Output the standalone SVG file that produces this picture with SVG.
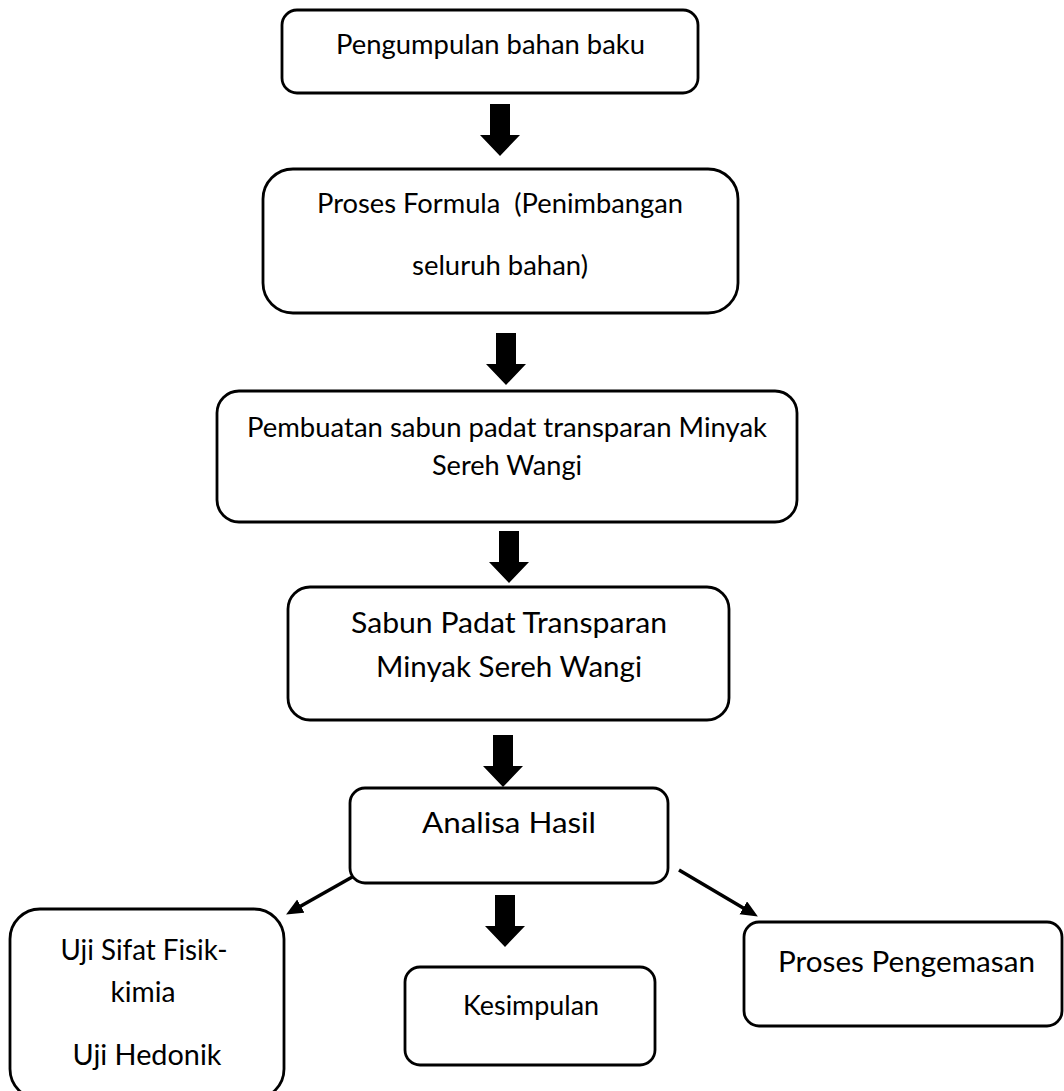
<svg xmlns="http://www.w3.org/2000/svg" width="1064" height="1091" viewBox="0 0 1064 1091">
<defs>
<style>
.box{fill:#fff;stroke:#000;stroke-width:2.8}
.t{font-family:Lato,"Liberation Sans",sans-serif;fill:#000;text-anchor:middle}
.s26{font-size:26px}
.s29{font-size:28.5px}
.blk{fill:#000}
.ln{stroke:#000;stroke-width:3.5;fill:none;marker-end:url(#ah)}
</style>
<marker id="ah" markerUnits="userSpaceOnUse" markerWidth="18" markerHeight="16" refX="4" refY="7.5" orient="auto">
<path d="M0,0 L17,7.5 L0,15 Z" fill="#000"/>
</marker>
<path id="ba" d="M-10,0 H10 V31 H20 L0,52 L-20,31 H-10 Z"/>
</defs>
<rect width="1064" height="1091" fill="#fff"/>
<g id="connectors">
<use href="#ba" class="blk" transform="translate(500,104)"/>
<use href="#ba" class="blk" transform="translate(506,333)"/>
<use href="#ba" class="blk" transform="translate(509,531)"/>
<use href="#ba" class="blk" transform="translate(503,735)"/>
<use href="#ba" class="blk" transform="translate(505,895)"/>
<line class="ln" x1="354" y1="876" x2="297.4" y2="908.1"/>
<line class="ln" x1="679" y1="870" x2="746.7" y2="909.9"/>
</g>
<g id="n1">
<rect class="box" x="282" y="10" width="416" height="83" rx="15"/>
<text class="t s26" x="490.5" y="54" textLength="309" lengthAdjust="spacingAndGlyphs">Pengumpulan bahan baku</text>
</g>
<g id="n2">
<rect class="box" x="263" y="169" width="475" height="144" rx="30"/>
<text class="t s26" x="500" y="213" textLength="366" lengthAdjust="spacingAndGlyphs" xml:space="preserve">Proses Formula  (Penimbangan</text>
<text class="t s26" x="500" y="275" textLength="176" lengthAdjust="spacingAndGlyphs">seluruh bahan)</text>
</g>
<g id="n3">
<rect class="box" x="217" y="391" width="580" height="131" rx="22"/>
<text class="t s26" x="507" y="437" textLength="520" lengthAdjust="spacingAndGlyphs">Pembuatan sabun padat transparan Minyak</text>
<text class="t s26" x="507" y="475" textLength="150" lengthAdjust="spacingAndGlyphs">Sereh Wangi</text>
</g>
<g id="n4">
<rect class="box" x="288" y="587" width="441" height="133" rx="22"/>
<text class="t s29" x="509" y="633" textLength="316" lengthAdjust="spacingAndGlyphs">Sabun Padat Transparan</text>
<text class="t s29" x="509" y="677" textLength="266" lengthAdjust="spacingAndGlyphs">Minyak Sereh Wangi</text>
</g>
<g id="n5">
<rect class="box" x="350" y="788" width="318" height="95" rx="15"/>
<text class="t s29" x="509" y="833" textLength="174" lengthAdjust="spacingAndGlyphs">Analisa Hasil</text>
</g>
<g id="n6">
<rect class="box" x="10" y="909" width="274" height="190" rx="30"/>
<text class="t s29" x="144" y="960" textLength="167" lengthAdjust="spacingAndGlyphs">Uji Sifat Fisik-</text>
<text class="t s29" x="143" y="1002" textLength="65" lengthAdjust="spacingAndGlyphs">kimia</text>
<text class="t s29" x="147" y="1065" textLength="149" lengthAdjust="spacingAndGlyphs">Uji Hedonik</text>
</g>
<g id="n7">
<rect class="box" x="405" y="967" width="250" height="98" rx="15"/>
<text class="t s26" x="531" y="1015" textLength="136" lengthAdjust="spacingAndGlyphs">Kesimpulan</text>
</g>
<g id="n8">
<rect class="box" x="744" y="922" width="318" height="104" rx="15"/>
<text class="t s29" x="906.5" y="972" textLength="257" lengthAdjust="spacingAndGlyphs">Proses Pengemasan</text>
</g>
</svg>
